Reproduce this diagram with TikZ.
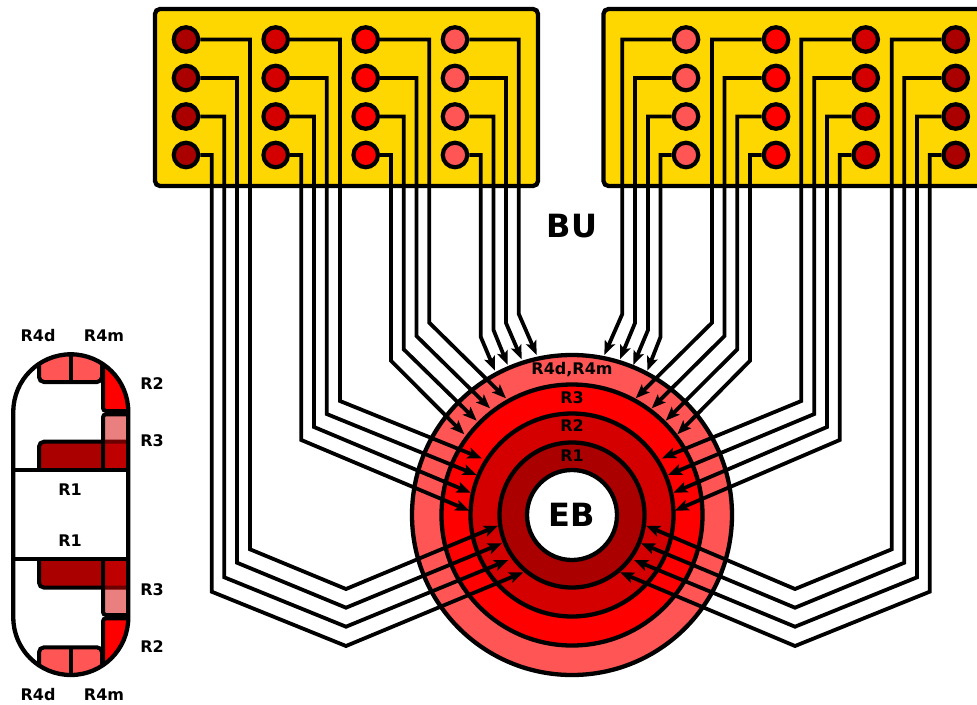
\documentclass[tikz,border=0pt]{standalone}
\usepackage{fontspec}
\setmainfont{DejaVu Sans}
\usetikzlibrary{positioning,arrows.meta}

\definecolor{rpink}{HTML}{FF5555}
\definecolor{rred}{HTML}{FF0000}
\definecolor{rmid}{HTML}{D40000}
\definecolor{rdark}{HTML}{AA0000}
\definecolor{bugold}{HTML}{FFD700}

\tikzset{
    dot/.style={circle,draw=black,line width=4.2pt,minimum size=24.5pt,inner sep=0pt},
    ring/.style={circle,draw=black,line width=4.3pt,inner sep=0pt},
    wire/.style={black,line width=3.8pt,line join=miter,-{Stealth[inset=3pt,length=14pt,width=11pt]}},
    lab/.style={font=\fontsize{16}{16}\selectfont\bfseries,inner sep=0pt},
    biglab/.style={font=\fontsize{32}{32}\selectfont\bfseries,inner sep=0pt},
    part/.style={draw=black,line width=4pt,rounded corners=5pt},
}

\begin{document}
\begin{tikzpicture}[x=1pt,y=-1pt]
\useasboundingbox (0,0) rectangle (977,704);

\draw[fill=bugold,line width=4.3pt,rounded corners=5pt] (155,9) rectangle (538,186);
\draw[fill=bugold,line width=4.3pt,rounded corners=5pt] (603.5,9) rectangle (1000,186);

\foreach \col/\xpos/\shade in {1/186/rdark, 2/275.7/rmid, 3/365.7/rred, 4/455/rpink, 5/686/rpink, 6/776/rred, 7/865.7/rmid, 8/955.7/rdark} {
    \foreach \row/\ypos in {1/39.5, 2/78, 3/116.5, 4/155} {
        \node[dot,fill=\shade] (d\col\row) at (\xpos,\ypos) {};
    }
}

\foreach \r/\shade/\name in {320/rpink/rfour, 261/rred/rthree, 203/rmid/rtwo, 145/rdark/rone} {
    \node[ring,fill=\shade,minimum size=\r pt] (\name) at (572,515) {};
}
\node[ring,fill=white,minimum size=90pt,biglab] (eb) at (572,515) {EB};

\node[lab] (lfour) at (572,370) {R4d,R4m};
\node[lab] (lthree) at (572,398) {R3};
\node[lab] (ltwo) at (572,426) {R2};
\node[lab] (lone) at (572,456) {R1};
\node[biglab] (bu) at (572,226) {BU};

% wires that go round under the rings
\foreach \dotn/\wx/\wy/\kx/\ky/\tx/\ty in {
    d11/250/549.3/346/589/498/525.7, d12/237/562.7/346/607.7/502/543.3,
    d13/224.3/577.3/346/626.7/508.3/560, d14/211.7/591.7/346/646/523.3/572.3,
    d81/891.7/549.3/795/589/646/525.7, d82/904.3/562.7/795/607.7/641/543.3,
    d83/917/577.3/795/626.7/634/560, d84/929.7/591.7/795/646/620/572.3} {
    \coordinate (t\dotn) at (\tx,\ty);
    \draw[wire] (\dotn) -| (\wx,\wy) -- (\kx,\ky) -- (t\dotn);
}

% wires that come straight down
\foreach \dotn/\wx/\wy/\tx/\ty in {
    d21/340/401/481.7/458.3, d22/326.7/414/476.7/475, d23/314/427/470.7/492.7, d24/301.3/440/469.3/510.7,
    d31/429.3/322.7/506/398.3, d32/416.5/336/490/408.3, d33/403.7/349.3/476.7/420.7, d34/391/360.7/464.3/434.3,
    d41/518.8/314/536.7/355, d42/506/323/521.7/359.3, d43/493.5/330/507.7/365, d44/480.8/337/495/370.7,
    d51/622.3/314/604.3/355, d52/635/323/620/359.3, d53/648/330/633.3/365, d54/660.5/337/647.3/370.7,
    d61/712/322.7/635.7/398.3, d62/724.5/336/651.7/408.3, d63/737.3/349.3/665.7/420.7, d64/750/360.7/677.3/434.3,
    d71/801.3/401/662/458.3, d72/814.3/414/668/475, d73/827/427/673.3/492.7, d74/839.7/440/674.7/510.7} {
    \coordinate (t\dotn) at (\tx,\ty);
    \draw[wire] (\dotn) -| (\wx,\wy) -- (t\dotn);
}

% small cut on the left
\begin{scope}
\clip[rounded corners=57.5pt] (13.3,354.3) rectangle (128.3,675);
\foreach \off/\flip in {0/1, 1029.3/-1} {
    \begin{scope}[shift={(0,\off)},yscale=\flip]
    \draw[part,fill=rpink] (39,340) rectangle (102,382);
    \draw[line width=4pt] (71,340) -- (71,382);
    \draw[part,fill=rred,rounded corners=3pt] (103,340) -- (103,411) -- (140,411) -- (140,340) -- cycle;
    \draw[part,fill=rdark] (39,490) -- (39,441.7) -- (140,441.7) -- (140,490) -- cycle;
    \fill[rmid,opacity=.5,rounded corners=3pt] (103,490) -- (103,414.3) -- (140,414.3) -- (140,490) -- cycle;
    \draw[part,rounded corners=3pt] (103,490) -- (103,414.3) -- (140,414.3);
    \end{scope}
}
\draw[fill=white,line width=4pt] (0,470) rectangle (140,559);
\end{scope}
\draw[line width=4.3pt,rounded corners=57.5pt] (13.3,354.3) rectangle (128.3,675);

\foreach \i/\xpos/\ypos/\txt in {a/38/336/R4d, b/104/336/R4m, c/152/384/R2, d/152/441/R3, e/70/490/R1,
    f/70/541/R1, g/152/590/R3, h/152/647/R2, i/38/695/R4d, j/104/695/R4m} {
    \node[lab] (cut\i) at (\xpos,\ypos) {\txt};
}
\end{tikzpicture}
\end{document}
